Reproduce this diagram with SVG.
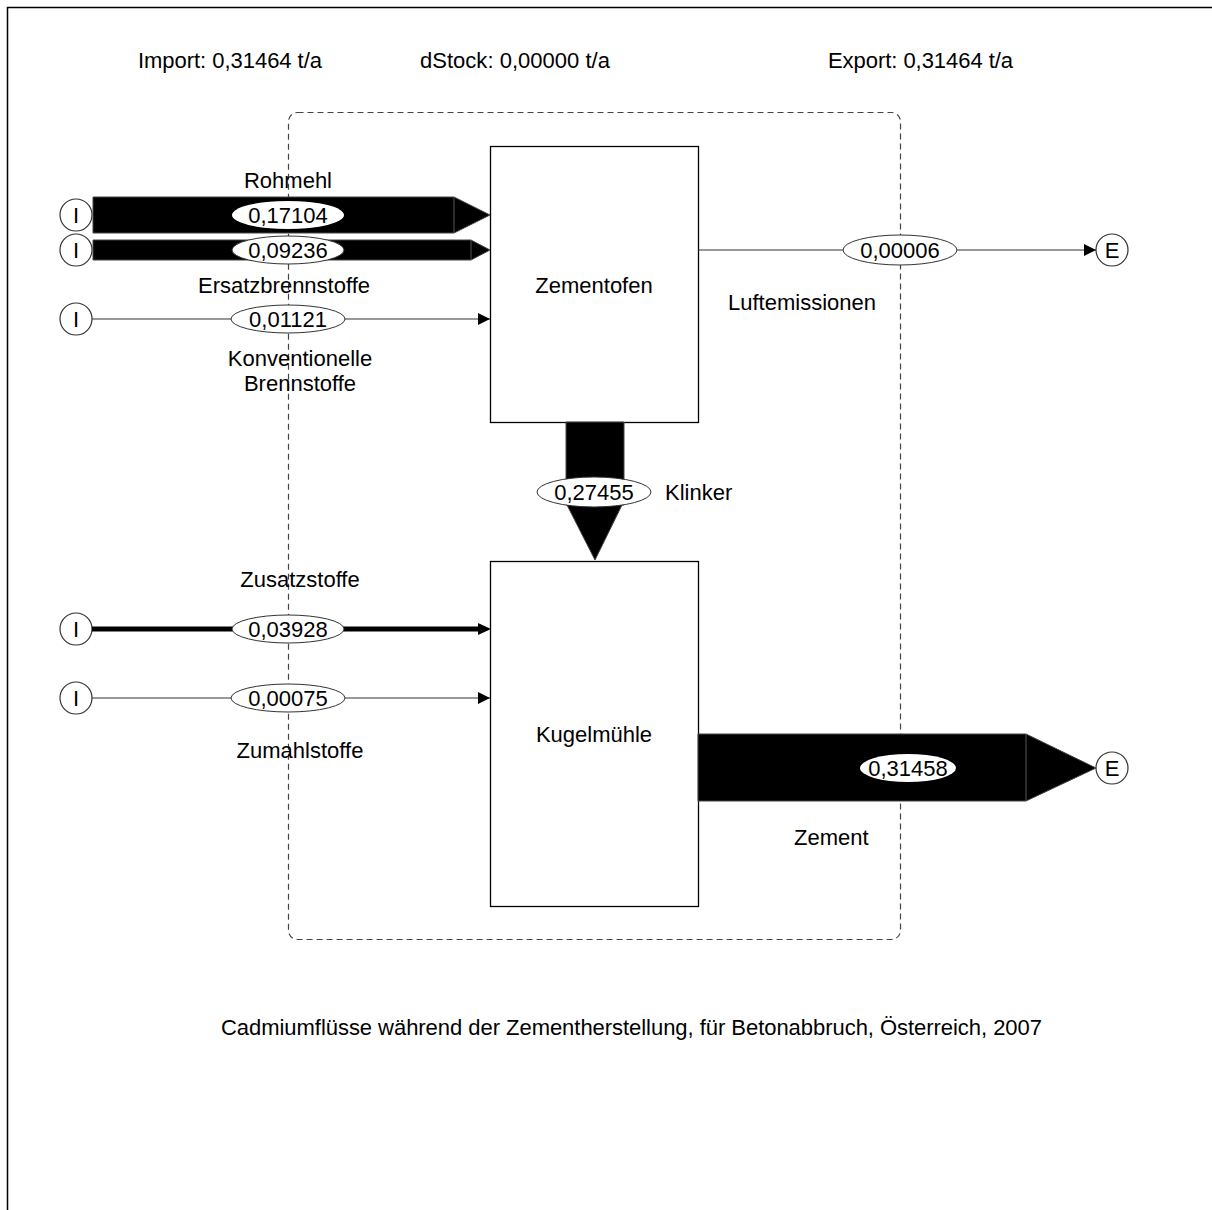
<svg xmlns="http://www.w3.org/2000/svg" width="1212" height="1210" viewBox="0 0 1212 1210">
  <style>
    text { font-family: "Liberation Sans", Arial, sans-serif; font-size: 22px; fill: #000; }
    .c { text-anchor: middle; }
    .box { fill: #fff; stroke: #000; stroke-width: 1.3; }
    .term { fill: #fff; stroke: #333; stroke-width: 1.2; }
    .val { fill: #fff; stroke: #333; stroke-width: 1; }
    .valw { fill: #fff; stroke: none; }
    .thin { stroke: #333; stroke-width: 1.2; fill: none; }
    .flow { fill: #000; stroke: #444; stroke-width: 1; }
    .seam { stroke: #555; stroke-width: 1; }
  </style>
  <defs>
    <marker id="ah" markerWidth="12" markerHeight="12" refX="12" refY="6" orient="auto" markerUnits="userSpaceOnUse">
      <path d="M0,0 L12,6 L0,12 Z" fill="#000"/>
    </marker>
  </defs>

  <rect x="0" y="0" width="1212" height="1210" fill="#fff"/>
  <!-- frame -->
  <rect x="7.5" y="7.5" width="1220" height="1220" fill="none" stroke="#000" stroke-width="1.5"/>

  <!-- header -->
  <text x="138" y="68" textLength="184">Import: 0,31464 t/a</text>
  <text x="420" y="68" textLength="190">dStock: 0,00000 t/a</text>
  <text x="828" y="68" textLength="185">Export: 0,31464 t/a</text>

  <!-- system boundary -->
  <rect x="288.5" y="112.5" width="612" height="827" rx="9" fill="none" stroke="#444" stroke-width="1.2" stroke-dasharray="6,4"/>

  <!-- processes -->
  <g id="zementofen">
    <rect class="box" x="490.5" y="146.5" width="208" height="276"/>
    <text class="c" x="594" y="293">Zementofen</text>
  </g>
  <g id="kugelmuehle">
    <rect class="box" x="490.5" y="561.5" width="208" height="345"/>
    <text class="c" x="594" y="742">Kugelmühle</text>
  </g>

  <!-- import / export terminals -->
  <g id="imp-rohmehl"><circle class="term" cx="76" cy="215" r="16"/><text class="c" x="76" y="223">I</text></g>
  <g id="imp-ersatz"><circle class="term" cx="76" cy="250" r="16"/><text class="c" x="76" y="258">I</text></g>
  <g id="imp-konv"><circle class="term" cx="76" cy="319" r="16"/><text class="c" x="76" y="327">I</text></g>
  <g id="imp-zusatz"><circle class="term" cx="76" cy="629" r="16"/><text class="c" x="76" y="637">I</text></g>
  <g id="imp-zumahl"><circle class="term" cx="76" cy="698" r="16"/><text class="c" x="76" y="706">I</text></g>
  <g id="exp-luft"><circle class="term" cx="1112" cy="250" r="16"/><text class="c" x="1112" y="258">E</text></g>
  <g id="exp-zement"><circle class="term" cx="1112" cy="768" r="16"/><text class="c" x="1112" y="776">E</text></g>

  <!-- flows -->
  <g id="connectors">
    <!-- Rohmehl -->
    <path class="flow" d="M93,197 L454,197 L490,215 L454,233 L93,233 Z"/>
    <line class="seam" x1="454" y1="197" x2="454" y2="233"/>
    <ellipse class="valw" cx="288" cy="215" rx="56" ry="14"/>
    <text class="c" x="288" y="223">0,17104</text>
    <text class="c" x="288" y="188">Rohmehl</text>

    <!-- Ersatzbrennstoffe -->
    <path class="flow" d="M93,240 L471,240 L490,250 L471,260 L93,260 Z"/>
    <line class="seam" x1="471" y1="240" x2="471" y2="260"/>
    <ellipse class="val" cx="288" cy="250" rx="56" ry="14"/>
    <text class="c" x="288" y="258">0,09236</text>
    <text class="c" x="284" y="293">Ersatzbrennstoffe</text>

    <!-- Konventionelle Brennstoffe -->
    <line class="thin" x1="92" y1="319" x2="490" y2="319" marker-end="url(#ah)"/>
    <ellipse class="val" cx="288" cy="319" rx="57" ry="14"/>
    <text class="c" x="288" y="327">0,01121</text>
    <text class="c" x="300" y="366">Konventionelle</text>
    <text class="c" x="300" y="391">Brennstoffe</text>

    <!-- Klinker -->
    <path class="flow" d="M566,422 L624,422 L624,505 L622,505 L595,560 L567,505 L566,505 Z"/>
    <ellipse class="val" cx="594" cy="492" rx="57" ry="15"/>
    <text class="c" x="594" y="500">0,27455</text>
    <text x="665" y="500">Klinker</text>

    <!-- Zusatzstoffe -->
    <line x1="92" y1="629" x2="478" y2="629" stroke="#000" stroke-width="5"/>
    <path d="M478,623 L491,629 L478,635 Z" fill="#000"/>
    <ellipse class="val" cx="288" cy="629" rx="56" ry="14"/>
    <text class="c" x="288" y="637">0,03928</text>
    <text class="c" x="300" y="587">Zusatzstoffe</text>

    <!-- Zumahlstoffe -->
    <line class="thin" x1="92" y1="698" x2="490" y2="698" marker-end="url(#ah)"/>
    <ellipse class="val" cx="288" cy="698" rx="57" ry="14"/>
    <text class="c" x="288" y="706">0,00075</text>
    <text class="c" x="300" y="758">Zumahlstoffe</text>

    <!-- Luftemissionen -->
    <line class="thin" x1="698" y1="250" x2="1096" y2="250" marker-end="url(#ah)"/>
    <ellipse class="val" cx="900" cy="250" rx="57" ry="15"/>
    <text class="c" x="900" y="258">0,00006</text>
    <text x="728" y="310">Luftemissionen</text>

    <!-- Zement -->
    <path class="flow" d="M698,734 L1026,734 L1096,768 L1026,801 L698,801 Z"/>
    <line class="seam" x1="1026" y1="734" x2="1026" y2="801"/>
    <ellipse class="valw" cx="908" cy="768" rx="48" ry="14"/>
    <text class="c" x="908" y="776">0,31458</text>
    <text x="794" y="845">Zement</text>
  </g>

  <!-- caption -->
  <text x="221" y="1035" textLength="821">Cadmiumflüsse während der Zementherstellung, für Betonabbruch, Österreich, 2007</text>
</svg>
